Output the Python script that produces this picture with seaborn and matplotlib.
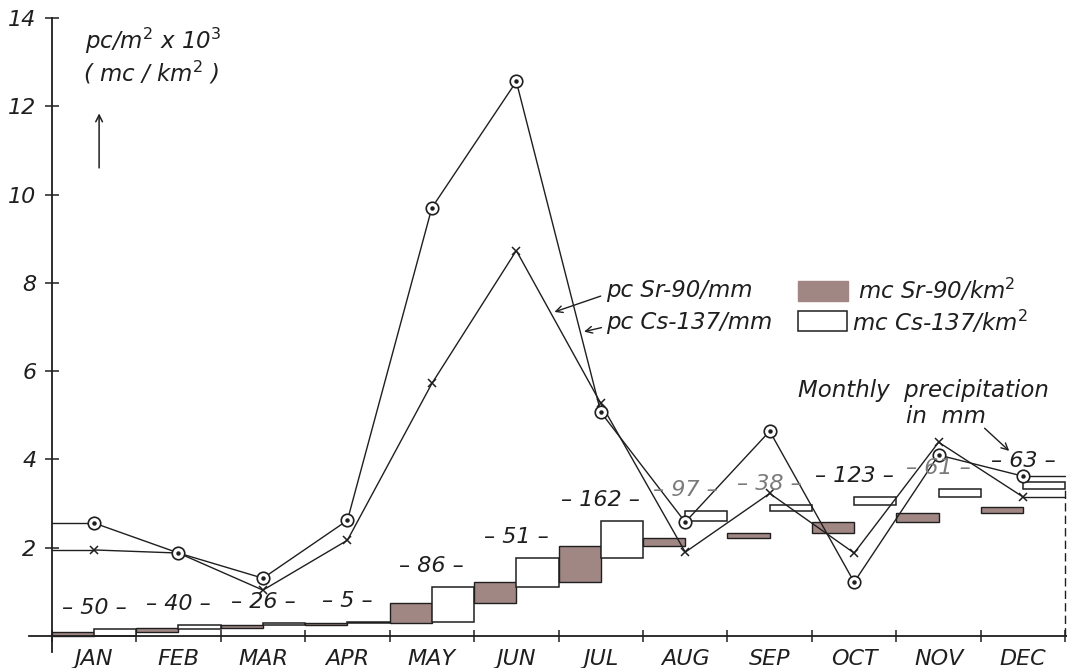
import matplotlib
matplotlib.use("Agg")
import matplotlib.pyplot as plt
from matplotlib.patches import Rectangle
import seaborn as sns

months = ["JAN", "FEB", "MAR", "APR", "MAY", "JUN",
          "JUL", "AUG", "SEP", "OCT", "NOV", "DEC"]
# activity per mm of precipitation (pc/m^2 x 10^3 per mm)
sr90_per_mm = [1.95, 1.88, 1.04, 2.17, 5.72, 8.73, 5.27, 1.90, 3.23, 1.88, 4.39, 3.15]
cs137_per_mm = [2.56, 1.88, 1.31, 2.62, 9.70, 12.56, 5.07, 2.58, 4.64, 1.22, 4.10, 3.62]
# cumulative deposition at the end of each month (mc/km^2)
sr90_cumulative = [0.10, 0.18, 0.24, 0.30, 0.75, 1.22, 2.03, 2.23, 2.34, 2.58, 2.78, 2.92]
cs137_cumulative = [0.15, 0.25, 0.29, 0.32, 1.11, 1.76, 2.60, 2.83, 2.96, 3.14, 3.32, 3.48]
# monthly precipitation (mm)
precip_mm = [50, 40, 26, 5, 86, 51, 162, 97, 38, 123, 61, 63]

sns.set_theme(style="white")
plt.rcParams["font.family"] = ["DejaVu Sans"]
plt.rcParams["mathtext.default"] = "it"

INK = "#1f1f1f"
FILL = "#a08784"
GREY = "#7a7a7a"
TXT = 16.5

fig = plt.figure(figsize=(10.67, 6.68), dpi=100)
fig.patch.set_facecolor("white")
ax = fig.add_axes([29 / 1067, 16.5 / 668, 1038 / 1067, 638 / 668])
ax.set_facecolor("white")

n = len(months)
centers = [i + 0.5 for i in range(n)]

# stepped deposition boxes: Sr-90 in the first half of a month, Cs-137 in the second
prev_sr, prev_cs = 0.0, 0.0
for i in range(n):
    ax.bar(i + 0.25, sr90_cumulative[i] - prev_sr, bottom=prev_sr, width=0.5,
           color=FILL, edgecolor=INK, linewidth=1.0, zorder=2)
    ax.bar(i + 0.75, cs137_cumulative[i] - prev_cs, bottom=prev_cs, width=0.5,
           color="white", edgecolor=INK, linewidth=1.1, zorder=2)
    prev_sr, prev_cs = sr90_cumulative[i], cs137_cumulative[i]

# per-mm activity lines
sns.lineplot(x=centers, y=sr90_per_mm, ax=ax, color=INK, linewidth=1.0,
             marker="x", markersize=6, markeredgewidth=1.1,
             markeredgecolor=INK, zorder=4)
sns.lineplot(x=centers, y=cs137_per_mm, ax=ax, color=INK, linewidth=1.0,
             marker="o", markersize=9, markerfacecolor="white",
             markeredgewidth=1.2, markeredgecolor=INK, zorder=5)
ax.plot(centers, cs137_per_mm, linestyle="none", marker="o", markersize=2.2,
        color=INK, zorder=6)
# lines run out horizontally to the axis ends
for series in (sr90_per_mm, cs137_per_mm):
    ax.plot([0, centers[0]], [series[0], series[0]], color=INK, lw=1.0, zorder=3)
    ax.plot([centers[-1], n], [series[-1], series[-1]], color=INK, lw=1.0, zorder=3)

# precipitation labels above the boxes
grey_months = {7, 8, 10}
for i, p in enumerate(precip_mm):
    ax.text(centers[i], cs137_cumulative[i] + 0.48, f"– {p} –", ha="center",
            va="center", fontsize=16, style="italic",
            color=GREY if i in grey_months else INK, zorder=7)

ax.vlines(n, 0, cs137_cumulative[-2], colors=INK, linestyles=(0, (6, 3)), lw=1.0)

# axes
ax.set_xlim(-0.27, 12.02)
ax.set_ylim(-0.35, 14.1)
ax.spines["top"].set_visible(False)
ax.spines["right"].set_visible(False)
ax.spines["left"].set_position(("data", 0))
ax.spines["left"].set_bounds(-0.35, 14)
ax.spines["bottom"].set_position(("data", 0))
for s in ("left", "bottom"):
    ax.spines[s].set_color(INK)
    ax.spines[s].set_linewidth(1.3)

ax.set_yticks(range(2, 15, 2))
ax.set_yticklabels([str(v) for v in range(2, 15, 2)])
ax.tick_params(axis="y", direction="inout", length=10, width=1.1, colors=INK,
               labelsize=16, pad=6, left=True)
ax.set_xticks(centers)
ax.set_xticklabels(months)
ax.set_xticks(range(0, n + 1), minor=True)
ax.tick_params(axis="x", which="major", length=0, labelsize=16, pad=9, colors=INK)
ax.tick_params(axis="x", which="minor", direction="inout", length=9, width=1.1,
               colors=INK, bottom=True)
for lbl in ax.get_xticklabels() + ax.get_yticklabels():
    lbl.set_fontstyle("italic")
ax.grid(False)

# unit caption
ax.text(0.39, 13.48, r"pc/m$^2$ x 10$^3$", fontsize=TXT, style="italic",
        color=INK, ha="left", va="center")
ax.text(0.37, 12.76, r"( mc / km$^2$ )", fontsize=TXT, style="italic",
        color=INK, ha="left", va="center")
ax.annotate("", xy=(0.56, 11.9), xytext=(0.56, 10.54),
            arrowprops=dict(arrowstyle="->", color=INK, lw=1.1))

# key
ax.text(6.56, 7.83, "pc Sr-90/mm", fontsize=TXT, style="italic", color=INK,
        ha="left", va="center")
ax.text(6.56, 7.10, "pc Cs-137/mm", fontsize=TXT, style="italic", color=INK,
        ha="left", va="center")
ax.annotate("", xy=(5.92, 7.32), xytext=(6.53, 7.72),
            arrowprops=dict(arrowstyle="->", color=INK, lw=1.0))
ax.annotate("", xy=(6.27, 6.88), xytext=(6.54, 7.0),
            arrowprops=dict(arrowstyle="->", color=INK, lw=1.0))
ax.add_patch(Rectangle((8.83, 7.58), 0.6, 0.47, facecolor=FILL, edgecolor=FILL))
ax.add_patch(Rectangle((8.83, 6.90), 0.58, 0.47, facecolor="white",
                       edgecolor=INK, lw=1.1))
ax.text(9.54, 7.83, r"mc Sr-90/km$^2$", fontsize=TXT, style="italic", color=INK,
        ha="left", va="center")
ax.text(9.48, 7.10, r"mc Cs-137/km$^2$", fontsize=TXT, style="italic", color=INK,
        ha="left", va="center")

ax.text(8.84, 5.57, "Monthly  precipitation", fontsize=TXT, style="italic",
        color=INK, ha="left", va="center")
ax.text(10.11, 4.98, "in  mm", fontsize=TXT, style="italic", color=INK,
        ha="left", va="center")
ax.annotate("", xy=(11.36, 4.15), xytext=(11.02, 4.75),
            arrowprops=dict(arrowstyle="->", color=INK, lw=1.0))

fig.savefig("out.png", dpi=100, facecolor="white")
